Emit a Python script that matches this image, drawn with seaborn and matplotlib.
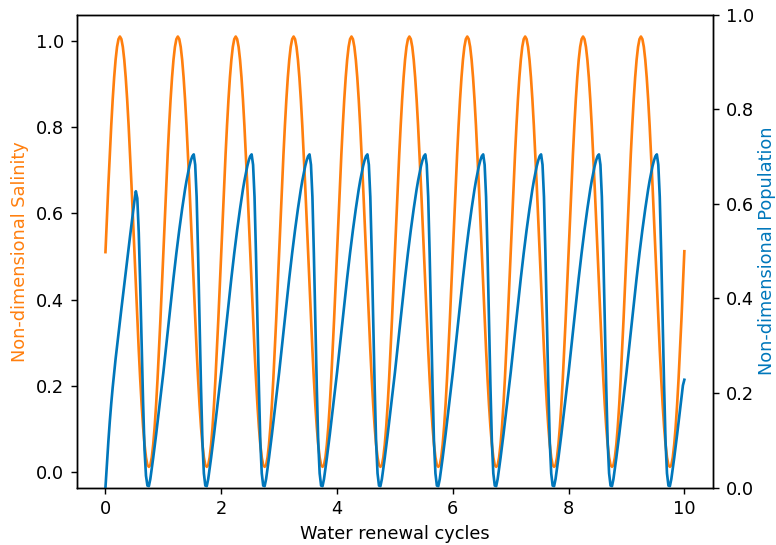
import numpy as np
import pandas as pd
import matplotlib
matplotlib.use("Agg")
import matplotlib.pyplot as plt
import seaborn as sns

# Sampling grid within one water renewal cycle (fraction of a cycle)
phase = np.arange(40) / 40
n_cycles = 10

# Non-dimensional salinity over one cycle (identical every cycle)
salinity_cycle = [
    0.510, 0.588, 0.665, 0.737, 0.804, 0.864, 0.915, 0.956, 0.986, 1.004,
    1.010, 1.004, 0.986, 0.956, 0.915, 0.864, 0.804, 0.737, 0.665, 0.588,
    0.510, 0.432, 0.355, 0.283, 0.216, 0.156, 0.105, 0.064, 0.034, 0.016,
    0.012, 0.016, 0.034, 0.064, 0.105, 0.156, 0.216, 0.283, 0.355, 0.432,
]
salinity_end = 0.512

# Non-dimensional population: first cycle (growth from zero) ...
population_first = [
    0.000, 0.050, 0.097, 0.140, 0.178, 0.212, 0.243, 0.272, 0.299, 0.326,
    0.352, 0.378, 0.404, 0.430, 0.456, 0.482, 0.507, 0.532, 0.557, 0.582,
    0.606, 0.627, 0.612, 0.540, 0.430, 0.305, 0.180, 0.080, 0.025, 0.004,
    0.003, 0.018, 0.040, 0.063, 0.087, 0.112, 0.138, 0.164, 0.190, 0.216,
]
# ... and the repeating cycle that follows
population_cycle = [
    0.243, 0.271, 0.300, 0.329, 0.358, 0.387, 0.415, 0.443, 0.470, 0.496,
    0.521, 0.545, 0.568, 0.590, 0.611, 0.631, 0.649, 0.665, 0.680, 0.692,
    0.701, 0.705, 0.683, 0.615, 0.495, 0.355, 0.215, 0.097, 0.030, 0.004,
    0.003, 0.018, 0.040, 0.063, 0.087, 0.112, 0.138, 0.164, 0.190, 0.216,
]
population_end = 0.228

x_ticks = [0, 2, 4, 6, 8, 10]
y_ticks = [0.0, 0.2, 0.4, 0.6, 0.8, 1.0]

orange = "#ff7f0e"
blue = "#0077bb"

# Assemble the full time series
cycles = np.repeat(np.arange(n_cycles), len(phase))
t = np.append(cycles + np.tile(phase, n_cycles), n_cycles)
salinity = np.append(np.tile(salinity_cycle, n_cycles), salinity_end)
population = np.concatenate(
    [population_first, np.tile(population_cycle, n_cycles - 1), [population_end]]
)
df = pd.DataFrame({"cycles": t, "salinity": salinity, "population": population})

fig = plt.figure(figsize=(776 / 128, 545 / 128), dpi=128)
ax = fig.add_axes([0.0986, 0.1055, 0.9192 - 0.0986, 0.9725 - 0.1055])

sns.lineplot(data=df, x="cycles", y="salinity", ax=ax, color=orange,
             linewidth=1.5, sort=False)
ax.set_ylim(-0.036, 1.06)
ax.set_xlim(-0.5, 10.5)
ax.set_xticks(x_ticks)
ax.set_yticks(y_ticks)
ax.set_xlabel("Water renewal cycles")
ax.set_ylabel("Non-dimensional Salinity", color=orange)

ax2 = ax.twinx()
sns.lineplot(data=df, x="cycles", y="population", ax=ax2, color=blue,
             linewidth=1.5, sort=False)
ax2.set_ylim(0, 1)
ax2.set_yticks(y_ticks)
ax2.set_ylabel("Non-dimensional Population", color=blue, labelpad=2)

fig.savefig("out.png", dpi=128)
